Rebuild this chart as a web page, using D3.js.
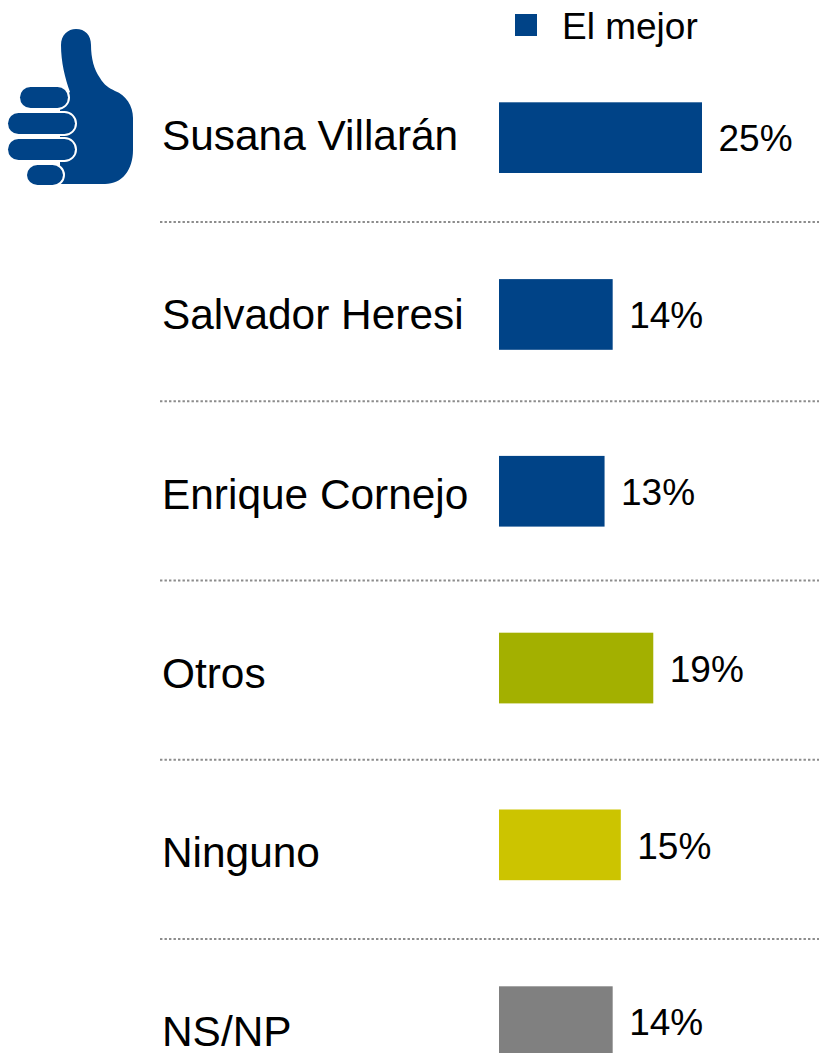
<!DOCTYPE html>
<html><head><meta charset="utf-8">
<script src="https://cdn.jsdelivr.net/npm/d3@7"></script>
<style>html,body{margin:0;padding:0;background:#fff;overflow:hidden}svg{display:block}text{font-family:"Liberation Sans",Arial,sans-serif;fill:#000}</style>
</head><body><div id="c"></div>
<script>
const categories=["Susana Villarán","Salvador Heresi","Enrique Cornejo","Otros","Ninguno","NS/NP"];
const values=[25,14,13,19,15,14];
const barColors=["#004387","#004387","#004387","#a3b000","#ccc400","#808080"];
const legendLabel="El mejor";
const W=819,H=1053;
const svg=d3.select("#c").append("svg").attr("width",W).attr("height",H);
const x=d3.scaleLinear().domain([0,25]).range([499,702]);
const yBarStep=176.8,barH=70.7;
const yb=d3.scaleBand().domain(categories).range([102.3,102.3+yBarStep*5+barH]).paddingInner(1-barH/yBarStep).paddingOuter(0);
const yl=d3.scalePoint().domain(categories).range([136.2,136.2+179.25*5]);
// separators
svg.append("g").selectAll("line").data(categories.slice(0,-1)).join("line")
 .attr("x1",160).attr("x2",W)
 .attr("y1",d=>yl(d)+85.8).attr("y2",d=>yl(d)+85.8)
 .attr("stroke","#8c8c8c").attr("stroke-width",2.2).attr("stroke-dasharray","2.4 2.1");
// bars
svg.append("g").selectAll("rect").data(categories).join("rect")
 .attr("x",x(0)).attr("y",d=>yb(d))
 .attr("width",(d,i)=>x(values[i])-x(0)).attr("height",yb.bandwidth())
 .attr("fill",(d,i)=>barColors[i]);
// category labels
svg.append("g").selectAll("text").data(categories).join("text")
 .attr("x",162).attr("y",d=>yl(d)+14).attr("font-size",42.4).text(d=>d);
// value labels
svg.append("g").selectAll("text").data(categories).join("text")
 .attr("x",(d,i)=>x(values[i])+16.5).attr("y",d=>yb(d)+49).attr("font-size",37)
 .text((d,i)=>values[i]+"%");
// legend
svg.append("rect").attr("x",515).attr("y",14).attr("width",22).attr("height",22).attr("fill",barColors[0]);
svg.append("text").attr("x",562).attr("y",39).attr("font-size",37).text(legendLabel);
// thumb icon
const icon=svg.append("g").attr("fill",barColors[0]);
icon.append("path").attr("d","M61 45 C61 35 68 29 76 29 C85 29 91 35 91 45 C91 58 94 70 100 78 C104 85 109 88 115 91 C126 95 133 106 133 118 L133 150 C133 170 122 184 105 184 L60 184 L60 100 L70 92 C65 78 61 62 61 45 Z");
const fingers=[[20,87,48,21],[8,113,67,21],[8,139,67,21],[27,165,36,20]];
icon.selectAll("rect").data(fingers).join("rect")
 .attr("x",d=>d[0]).attr("y",d=>d[1]).attr("width",d=>d[2]).attr("height",d=>d[3])
 .attr("rx",10.5).attr("stroke","#fff").attr("stroke-width",4).attr("paint-order","stroke");
</script></body></html>
